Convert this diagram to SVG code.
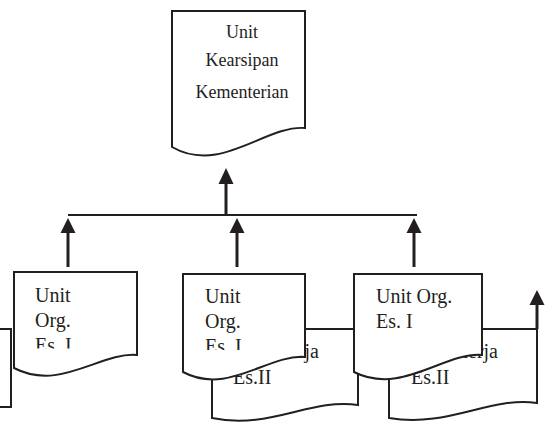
<svg xmlns="http://www.w3.org/2000/svg" width="545" height="423" viewBox="0 0 545 423">
<style>
.doc{fill:#fff;stroke:#231f20;stroke-width:2;stroke-linejoin:miter}
.ln{fill:none;stroke:#231f20;stroke-width:2}
.sh{fill:none;stroke:#231f20;stroke-width:3}
.hd{fill:#231f20;stroke:none}
.t{font-family:"Liberation Serif","Times New Roman",serif;font-size:20px;fill:#231f20}
.tt{font-family:"Liberation Serif","Times New Roman",serif;font-size:18px;fill:#231f20;text-anchor:middle}
</style>
<defs>
<clipPath id="c1"><rect x="0" y="270" width="140" height="78.5"/></clipPath>
<clipPath id="c2"><rect x="180" y="270" width="130" height="80"/></clipPath>
</defs>
<rect width="545" height="423" fill="#fff"/>
<g id="left-back">
<path class="ln" d="M0 329H11V407H0"/>
</g>
<g id="mid-back">
<path class="doc" d="M212 329H358V405C310 398 270 430 212 418Z"/>
<text class="t" x="234" y="358">Unit Kerja</text>
<text class="t" x="233" y="384">Es.II</text>
</g>
<g id="right-back">
<path class="doc" d="M389 329H537V403C489 396 449 428 389 418Z"/>
<text class="t" x="413" y="358">Unit Kerja</text>
<text class="t" x="411" y="384">Es.II</text>
</g>
<g id="top">
<path class="doc" d="M172 11H305V128C265 125 221 175 172 147Z"/>
<text class="tt" x="242" y="38">Unit</text>
<text class="tt" x="242" y="66">Kearsipan</text>
<text class="tt" x="242" y="98">Kementerian</text>
</g>
<g id="left-front">
<path class="doc" d="M14 272H137V355C100 352 60 392 14 368Z"/>
<g clip-path="url(#c1)">
<text class="t" x="35" y="302">Unit</text>
<text class="t" x="35" y="327">Org.</text>
<text class="t" x="35" y="352">Es. I</text>
</g>
</g>
<g id="mid-front">
<path class="doc" d="M183 274H305V357C268 354 228 396 183 372Z"/>
<g clip-path="url(#c2)">
<text class="t" x="205" y="303">Unit</text>
<text class="t" x="205" y="328">Org.</text>
<text class="t" x="205" y="353">Es. I</text>
</g>
</g>
<g id="right-front">
<path class="doc" d="M354 274H482V355C444 352 401 396 354 372Z"/>
<text class="t" x="376" y="303">Unit Org.</text>
<text class="t" x="376" y="328">Es. I</text>
</g>
<g id="connectors">
<path class="ln" d="M68 215H417"/>
<path class="sh" d="M226 215V182"/>
<polygon class="hd" points="226,168 218.5,184 233.5,184"/>
<path class="sh" d="M68 267V231"/>
<polygon class="hd" points="68,218 60.5,233 75.5,233"/>
<path class="sh" d="M237 267V231"/>
<polygon class="hd" points="237,218 229.5,233 244.5,233"/>
<path class="sh" d="M414 267V231"/>
<polygon class="hd" points="414,218 406.5,233 421.5,233"/>
<path class="sh" d="M537 329V303"/>
<polygon class="hd" points="537,290 529.5,305 544.5,305"/>
</g>
</svg>
